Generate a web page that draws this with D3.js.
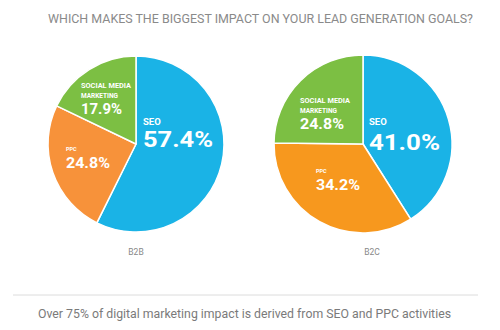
<!DOCTYPE html>
<html>
<head>
<meta charset="utf-8">
<script src="https://cdn.jsdelivr.net/npm/d3@7"></script>
<style>
  html, body { margin: 0; padding: 0; background: #fff; }
  svg { display: block; font-family: Roboto, "Open Sans", sans-serif; }
</style>
</head>
<body>
<svg id="chart" width="500" height="330"></svg>
<script>
// ---- data ----
const categories = ["SEO", "PPC", "SOCIAL MEDIA MARKETING"];
const b2bValues = [57.4, 24.8, 17.9];
const b2cValues = [41.0, 34.2, 24.8];
const pieNames = ["B2B", "B2C"];
const titleText = "WHICH MAKES THE BIGGEST IMPACT ON YOUR LEAD GENERATION GOALS?";
const footerText = "Over 75% of digital marketing impact is derived from SEO and PPC activities";

// ---- layout / style ----
const colors = { b2b: ["#1ab3e6", "#f7923a", "#7cbf43"], b2c: ["#1ab3e6", "#f7981e", "#7cbf43"] };
const pies = [
  { name: pieNames[0], values: b2bValues, cx: 136, cy: 144, r: 88, colors: colors.b2b,
    nameDx: 0,
    labels: [
      { dx: 7, y1: -19, y2: 3, big: 22, bigLen: 70, small: 9.5 },
      { dx: -70, y1: 7, y2: 24, big: 14, bigLen: 44, small: 5.5 },
      { dx: -55, y1: -56, y1b: -46.5, y2: -30, big: 14, bigLen: 41, small: 7 }
    ] },
  { name: pieNames[1], values: b2cValues, cx: 363, cy: 144, r: 89, colors: colors.b2c,
    nameDx: 9,
    labels: [
      { dx: 6, y1: -19, y2: 6, big: 22, bigLen: 71, small: 9.5 },
      { dx: -47, y1: 29, y2: 46, big: 14, bigLen: 44, small: 5.5 },
      { dx: -63, y1: -41, y1b: -31.5, y2: -15, big: 14, bigLen: 44, small: 7 }
    ] }
];

const svg = d3.select("#chart");

// title
svg.append("text")
  .attr("x", 48).attr("y", 22.5)
  .attr("textLength", 425).attr("lengthAdjust", "spacingAndGlyphs")
  .attr("font-size", 13).attr("fill", "#8a8a8a")
  .text(titleText);

const pieGen = d3.pie().sort(null).value(d => d);
const fmt = d3.format(".1f");

pies.forEach(p => {
  const g = svg.append("g").attr("transform", `translate(${p.cx},${p.cy})`);
  const arc = d3.arc().innerRadius(0).outerRadius(p.r);
  const arcs = pieGen(p.values);
  g.selectAll("path").data(arcs).enter().append("path")
    .attr("d", arc)
    .attr("fill", (d, i) => p.colors[i])
    .attr("stroke", "#fff").attr("stroke-width", 1.5).attr("stroke-linejoin", "round");

  arcs.forEach((d, i) => {
    const L = p.labels[i];
    const lab = g.append("g").attr("fill", "#fff").attr("font-weight", "bold");
    if (i === 2) {
      lab.append("text").attr("x", L.dx).attr("y", L.y1).attr("font-size", L.small)
        .attr("textLength", 50).attr("lengthAdjust", "spacingAndGlyphs").text("SOCIAL MEDIA");
      lab.append("text").attr("x", L.dx).attr("y", L.y1b).attr("font-size", L.small)
        .attr("textLength", 37).attr("lengthAdjust", "spacingAndGlyphs").text("MARKETING");
    } else {
      lab.append("text").attr("x", L.dx).attr("y", L.y1).attr("font-size", L.small)
        .text(categories[i]);
    }
    lab.append("text").attr("x", L.dx).attr("y", L.y2).attr("font-size", L.big)
      .attr("textLength", L.bigLen).attr("lengthAdjust", "spacingAndGlyphs")
      .text(fmt(d.data) + "%");
  });

  svg.append("text")
    .attr("x", p.cx + p.nameDx).attr("y", 254.5)
    .attr("text-anchor", "middle").attr("font-size", 8.5).attr("fill", "#888")
    .text(p.name);
});

// separator line
svg.append("line").attr("x1", 13).attr("x2", 478).attr("y1", 295).attr("y2", 295)
  .attr("stroke", "#dcdcdc").attr("stroke-width", 1);

// footer
svg.append("text")
  .attr("x", 38).attr("y", 317.5)
  .attr("textLength", 413).attr("lengthAdjust", "spacingAndGlyphs")
  .attr("font-size", 12).attr("fill", "#7a7a7a")
  .text(footerText);
</script>
</body>
</html>
